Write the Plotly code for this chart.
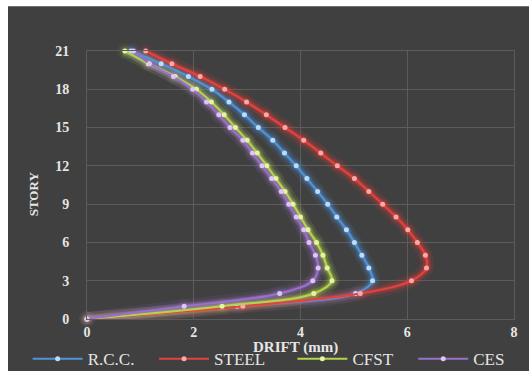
import plotly.graph_objects as go

# Story levels (0 = base, 21 = roof)
stories = list(range(22))

# Storey drift (mm) for each structural system, base to roof
drift_rcc = [0, 2.81, 5.03, 5.35, 5.28, 5.15, 5.01, 4.86, 4.68, 4.51, 4.32,
             4.12, 3.92, 3.70, 3.48, 3.21, 2.95, 2.66, 2.34, 1.90, 1.39, 0.82]
drift_steel = [0, 2.92, 5.12, 6.08, 6.36, 6.34, 6.19, 6.01, 5.79, 5.54, 5.28,
               5.01, 4.69, 4.38, 4.06, 3.71, 3.36, 2.99, 2.58, 2.12, 1.59, 1.10]
drift_cfst = [0, 2.53, 4.25, 4.59, 4.50, 4.42, 4.30, 4.14, 4.00, 3.86, 3.71,
              3.54, 3.37, 3.19, 3.00, 2.78, 2.57, 2.33, 2.05, 1.65, 1.15, 0.71]
drift_ces = [0, 1.82, 3.61, 4.23, 4.33, 4.28, 4.16, 4.06, 3.92, 3.78, 3.64,
             3.46, 3.28, 3.10, 2.92, 2.68, 2.47, 2.24, 1.98, 1.62, 1.17, 0.87]

series_names = ["R.C.C.", "STEEL", "CFST", "CES"]
x_ticks = [0, 2, 4, 6, 8]
y_ticks = [0, 3, 6, 9, 12, 15, 18, 21]

# line colour, marker colour, rgb for glow
styles = {
    "R.C.C.": ("#4f93d8", "#bcdcfa", (79, 147, 216)),
    "STEEL": ("#e8403c", "#f8aaa8", (232, 64, 60)),
    "CFST": ("#b4d44a", "#e4f3a4", (180, 212, 74)),
    "CES": ("#9a70cc", "#dcc6f3", (154, 112, 204)),
}
data = dict(zip(series_names, [drift_rcc, drift_steel, drift_cfst, drift_ces]))

BG = "#404040"
GRID = "#5c5c5c"
TXT = "#e6e6e6"
SERIF = "Liberation Serif, Times New Roman, serif"

# one legend box per series, laid out along the bottom
legend_ids = ["legend", "legend2", "legend3", "legend4"]
legend_x = [-0.139, 0.157, 0.481, 0.764]

fig = go.Figure()

for name in series_names:
    line_c, mark_c, rgb = styles[name]
    xs = data[name]
    # soft glow layers behind each curve
    for width, alpha, msize in [(14, 0.10, 16), (8, 0.20, 11), (4, 0.35, 7)]:
        fig.add_trace(go.Scatter(
            x=xs, y=stories, mode="lines+markers",
            line=dict(color="rgba(%d,%d,%d,%.2f)" % (*rgb, alpha), width=width, shape="spline", smoothing=1),
            marker=dict(size=msize, color="rgba(%d,%d,%d,%.2f)" % (*rgb, alpha * 0.5)),
            showlegend=False, hoverinfo="skip", cliponaxis=False,
        ))

for name, lg in zip(series_names, legend_ids):
    line_c, mark_c, rgb = styles[name]
    fig.add_trace(go.Scatter(
        x=data[name], y=stories, name=name, mode="lines+markers",
        line=dict(color=line_c, width=2, shape="spline", smoothing=1),
        marker=dict(size=5, color=mark_c),
        cliponaxis=False, legend=lg,
    ))

legend_style = dict(
    orientation="h", y=-0.15, xanchor="left", yanchor="middle",
    font=dict(family=SERIF, size=17, color=TXT),
    itemwidth=50, bgcolor="rgba(0,0,0,0)",
)
legend_layout = {lg: dict(x=lx, **legend_style) for lg, lx in zip(legend_ids, legend_x)}

fig.update_layout(
    width=529, height=371,
    margin=dict(l=87, r=15, t=51, b=52, autoexpand=False),
    paper_bgcolor=BG, plot_bgcolor=BG,
    font=dict(family=SERIF, color=TXT),
    showlegend=True,
    xaxis=dict(
        range=[0, 8], tickvals=x_ticks, showgrid=True, gridcolor=GRID, gridwidth=1,
        zeroline=False, showline=True, linecolor=GRID, mirror=True,
        tickfont=dict(family=SERIF, size=14, color=TXT, weight="bold"),
        ticks="", fixedrange=True,
    ),
    yaxis=dict(
        range=[0, 21], tickvals=y_ticks, showgrid=True, gridcolor=GRID, gridwidth=1,
        zeroline=False, showline=True, linecolor=GRID, mirror=True,
        tickfont=dict(family=SERIF, size=14, color=TXT, weight="bold"),
        ticks="", ticklabelstandoff=14, fixedrange=True,
    ),
    annotations=[
        dict(text="STORY", xref="paper", yref="paper", x=-0.1265, y=0.469,
             textangle=-90, showarrow=False, xanchor="center", yanchor="middle",
             font=dict(family=SERIF, size=13, color=TXT, weight="bold")),
        dict(text="DRIFT (mm)", xref="paper", yref="paper", x=0.489, y=-0.106,
             showarrow=False, xanchor="center", yanchor="middle",
             font=dict(family=SERIF, size=15, color=TXT, weight="bold")),
    ],
    shapes=[
        # white border strips along the top and left edges
        dict(type="rect", xref="paper", yref="paper", x0=-0.21, x1=1.05,
             y0=1.1667, y1=1.2, fillcolor="white", line=dict(width=0), layer="above"),
        dict(type="rect", xref="paper", yref="paper", x0=-0.21, x1=-0.185,
             y0=-0.2, y1=1.2, fillcolor="white", line=dict(width=0), layer="above"),
    ],
    **legend_layout,
)

fig.write_html("out.html")
